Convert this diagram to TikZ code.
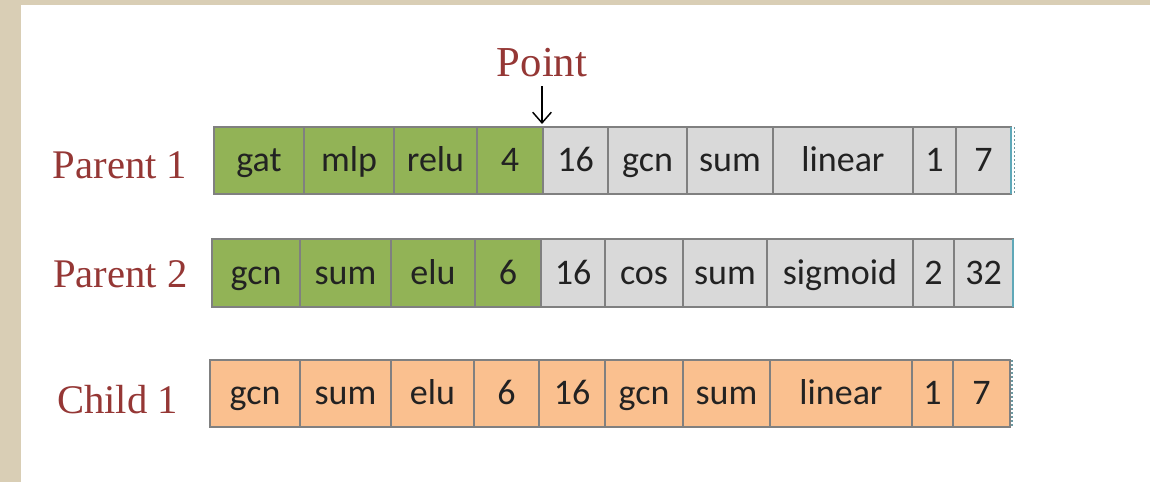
\documentclass[tikz,border=0pt]{standalone}
\usepackage{fontspec}
\setmainfont{Liberation Serif}
\newfontfamily\cellfont{Carlito}
\usetikzlibrary{arrows.meta}

\definecolor{pagebeige}{HTML}{D9CEB5}
\definecolor{genegreen}{HTML}{92B356}
\definecolor{genegray}{HTML}{D9D9D9}
\definecolor{geneorange}{HTML}{FAC08F}
\definecolor{cellborder}{HTML}{808080}
\definecolor{labelred}{HTML}{953735}
\definecolor{edgeteal}{HTML}{5FA8B8}
\definecolor{celltext}{HTML}{222222}

% one gene cell of a chromosome row: name, style, left x, right x, text
\newcommand\genecell[5]{%
  \pgfmathsetmacro\cellw{(#4-#3)*0.75}%
  \pgfmathsetmacro\cellh{(\rowbot-\rowtop)*0.75}%
  \node[#2, minimum width=\cellw pt, minimum height=\cellh pt]
    (#1) at ({(#3+#4)/2},{(\rowtop+\rowbot)/2}) {#5};%
}

\begin{document}
\begin{tikzpicture}[x=0.75pt,y=-0.75pt,
  cellbase/.style={draw=cellborder, line width=1.5pt, inner sep=0pt, outer sep=0pt,
    text height=20pt, text depth=3.5pt,
    font=\cellfont\fontsize{27}{30}\selectfont, text=celltext},
  greencell/.style={cellbase, fill=genegreen},
  graycell/.style={cellbase, fill=genegray},
  orangecell/.style={cellbase, fill=geneorange},
  rowlabel/.style={anchor=base, text=labelred, font=\fontsize{30.5}{34}\selectfont, inner sep=0pt},
  tealedge/.style={draw=edgeteal, line width=1.6pt},
  tealticks/.style={draw=edgeteal!60!gray, line width=0.8pt, dash pattern=on 1.2pt off 1.8pt},
]
\useasboundingbox (0,0) rectangle (1150,482);
\fill[pagebeige] (0,0) rectangle (1150,482);
\fill[white] (21,5) rectangle (1150,482);

% ---- Parent 1 ----
\def\rowtop{127}\def\rowbot{194}
\genecell{pa}{greencell}{214}{304}{gat}
\genecell{pb}{greencell}{304}{394}{mlp}
\genecell{pc}{greencell}{394}{477}{relu}
\genecell{pd}{greencell}{477}{543}{4}
\genecell{pe}{graycell}{543}{608}{16}
\genecell{pf}{graycell}{608}{687}{gcn}
\genecell{pg}{graycell}{687}{773}{sum}
\genecell{ph}{graycell}{773}{913}{linear}
\genecell{pi}{graycell}{913}{956}{1}
\genecell{pj}{graycell}{956}{1011}{7}
\draw[tealedge] (pj.north east) -- (pj.south east);
\draw[tealticks] ([xshift=2.5pt]pj.north east) -- ([xshift=2.5pt]pj.south east);
\node[rowlabel] (lab1) at (120,178) {Parent 1};

% ---- Parent 2 ----
\def\rowtop{239}\def\rowbot{307}
\genecell{qa}{greencell}{212}{300}{gcn}
\genecell{qb}{greencell}{300}{391}{sum}
\genecell{qc}{greencell}{391}{475}{elu}
\genecell{qd}{greencell}{475}{541}{6}
\genecell{qe}{graycell}{541}{605}{16}
\genecell{qf}{graycell}{605}{683}{cos}
\genecell{qg}{graycell}{683}{767}{sum}
\genecell{qh}{graycell}{767}{913}{sigmoid}
\genecell{qi}{graycell}{913}{954}{2}
\genecell{qj}{graycell}{954}{1013}{32}
\draw[tealedge] (qj.north east) -- (qj.south east);
\node[rowlabel] (lab2) at (120.5,287) {Parent 2};

% ---- Child 1 ----
\def\rowtop{360}\def\rowbot{427}
\genecell{ca}{orangecell}{210}{300}{gcn}
\genecell{cb}{orangecell}{300}{391}{sum}
\genecell{cc}{orangecell}{391}{474}{elu}
\genecell{cd}{orangecell}{474}{539}{6}
\genecell{ce}{orangecell}{539}{605}{16}
\genecell{cf}{orangecell}{605}{683}{gcn}
\genecell{cg}{orangecell}{683}{770}{sum}
\genecell{ch}{orangecell}{770}{912}{linear}
\genecell{ci}{orangecell}{912}{953}{1}
\genecell{cj}{orangecell}{953}{1010}{7}
\draw[tealticks] ([xshift=1.5pt]cj.north east) -- ([xshift=1.5pt]cj.south east);
\node[rowlabel] (lab3) at (117.5,413) {Child 1};

% ---- crossover point ----
\node[rowlabel, font=\fontsize{32}{36}\selectfont] (point) at (542,76) {Point};
\coordinate (arrtop) at (542,86);
\coordinate (arrbot) at (542,124);
\draw[line width=1.1pt, -{Straight Barb[length=8pt,width=14pt,line width=1.1pt]}] (arrtop) -- (arrbot);
\end{tikzpicture}
\end{document}
